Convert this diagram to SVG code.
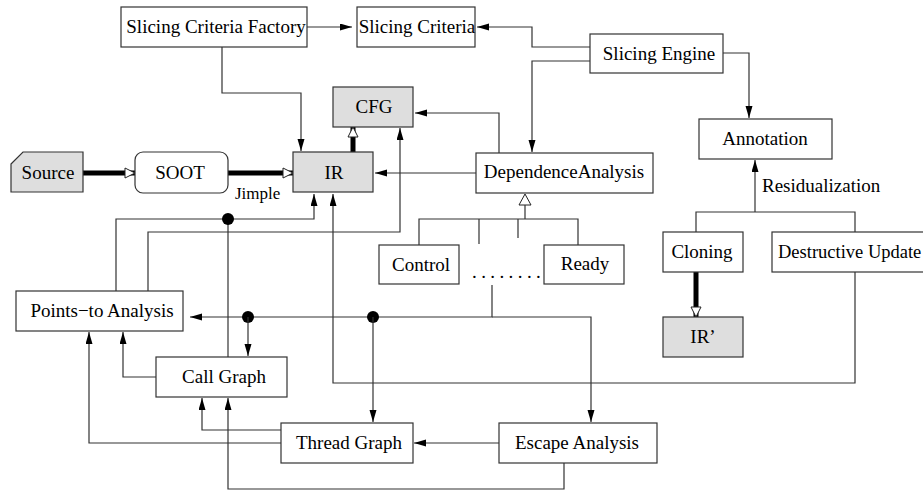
<svg xmlns="http://www.w3.org/2000/svg" width="923" height="492" viewBox="0 0 923 492">
<style>
.box{fill:#fff;stroke:#333;stroke-width:1.2}
.grey{fill:#dedede;stroke:#333;stroke-width:1.2}
text{font-family:'Liberation Serif','DejaVu Serif',serif;font-size:19px;fill:#000;text-anchor:middle}
.lbl{text-anchor:start}
.c{fill:none;stroke:#333;stroke-width:1.2}
.a{marker-end:url(#ah)}
.thick{fill:none;stroke:#000;stroke-width:5;marker-end:url(#hollow)}
.dot{fill:#000}
</style>
<defs>
<marker id="ah" markerUnits="userSpaceOnUse" markerWidth="13" markerHeight="8" refX="12" refY="3.5" orient="auto">
<path d="M0,0 L12,3.5 L0,7 z" fill="#000"/>
</marker>
<marker id="hollow" markerUnits="userSpaceOnUse" markerWidth="13" markerHeight="13" refX="11" refY="6" orient="auto">
<path d="M1,1 L11,6 L1,11 z" fill="#fff" stroke="#222" stroke-width="1"/>
</marker>
</defs>

<g id="connectors">
<path class="c a" d="M307,27 L352,27"/>
<path class="c a" d="M590,47 L532,47 L532,27 L477,27"/>
<path class="c a" d="M590,61 L532,61 L532,152"/>
<path class="c a" d="M723,53 L749,53 L749,118"/>
<path class="c a" d="M222,47 L222,93 L301,93 L301,151"/>
<path class="thick" d="M83,173 L135,173"/>
<path class="thick" d="M228,173 L293,173"/>
<path class="thick" d="M353,152 L353,127"/>
<path class="c a" d="M499,153 L499,113 L415,113"/>
<path class="c a" d="M476,173 L375,173"/>
<path d="M525,194 L531,205 L519,205 z" fill="#fff" stroke="#222" stroke-width="1"/>
<path class="c" d="M525,205 L525,219 M419,245 L419,219 L578,219 L578,245 M479,219 L479,244 M518,219 L518,238"/>
<path class="c" d="M696,232 L696,212 L855,212 L855,232"/>
<path class="c a" d="M755,212 L755,160"/>
<path class="thick" d="M696,272 L696,317"/>
<path class="c a" d="M855,272 L855,383 L333,383 L333,194"/>
<path class="c a" d="M116,291 L116,219 L314,219 L314,194"/>
<path class="c" d="M228,357 L228,219"/>
<circle class="dot" cx="228" cy="219" r="6"/>
<path class="c a" d="M148,291 L148,232 L400,232 L400,128"/>
<path class="c a" d="M492,285 L492,317 L190,317"/>
<path class="c a" d="M492,317 L591,317 L591,422"/>
<circle class="dot" cx="248" cy="317" r="6"/>
<path class="c a" d="M248,317 L248,356"/>
<circle class="dot" cx="373" cy="317" r="6"/>
<path class="c a" d="M373,317 L373,422"/>
<path class="c a" d="M156,377 L123,377 L123,332"/>
<path class="c a" d="M281,443 L89,443 L89,332"/>
<path class="c a" d="M281,430 L202,430 L202,398"/>
<path class="c a" d="M499,443 L414,443"/>
<path class="c a" d="M564,463 L564,489 L228,489 L228,398"/>
<text class="lbl" x="235" y="199" style="font-size:17px">Jimple</text>
<text class="lbl" x="762" y="192">Residualization</text>
</g>

<g id="scf"><rect class="box" x="121" y="7" width="186" height="40"/><text x="216" y="33">Slicing Criteria Factory</text></g>
<g id="sc"><rect class="box" x="357" y="7" width="118" height="40"/><text x="417" y="33">Slicing Criteria</text></g>
<g id="se"><rect class="box" x="590" y="34" width="133" height="39"/><text x="659" y="60">Slicing Engine</text></g>
<g id="cfg"><rect class="grey" x="333" y="87" width="80" height="40"/><text x="374" y="113">CFG</text></g>
<g id="ann"><rect class="box" x="699" y="119" width="133" height="40"/><text x="765" y="145">Annotation</text></g>
<g id="source"><path class="grey" d="M11,164 L23,152 L83,152 L83,192 L11,192 z"/><text x="48" y="179">Source</text></g>
<g id="soot"><rect class="box" x="135" y="152" width="93" height="41" rx="8"/><text x="180" y="179">SOOT</text></g>
<g id="ir"><rect class="grey" x="293" y="152" width="80" height="40"/><text x="334" y="179">IR</text></g>
<g id="da"><rect class="box" x="476" y="153" width="177" height="40"/><text x="564" y="178">DependenceAnalysis</text></g>
<g id="control"><rect class="box" x="379" y="245" width="80" height="39"/><text x="421" y="271">Control</text></g>
<g id="ready"><rect class="box" x="544" y="245" width="80" height="39"/><text x="585" y="270">Ready</text></g>
<g id="others"><text class="lbl" x="472" y="278" style="letter-spacing:4.4px">........</text></g>
<g id="cloning"><rect class="box" x="663" y="232" width="80" height="40"/><text x="702" y="258">Cloning</text></g>
<g id="du"><rect class="box" x="772" y="232" width="160" height="40"/><text class="lbl" x="778" y="258" style="font-size:18.5px">Destructive Update</text></g>
<g id="irp"><rect class="grey" x="663" y="317" width="80" height="40"/><text x="703" y="343">IR’</text></g>
<g id="pta"><rect class="box" x="16" y="291" width="167" height="40"/><text x="102" y="317">Points−to Analysis</text></g>
<g id="cg"><rect class="box" x="156" y="357" width="131" height="40"/><text x="224" y="383">Call Graph</text></g>
<g id="tg"><rect class="box" x="281" y="423" width="132" height="40"/><text x="349" y="449">Thread Graph</text></g>
<g id="ea"><rect class="box" x="499" y="423" width="158" height="40"/><text x="577" y="449">Escape Analysis</text></g>
</svg>
